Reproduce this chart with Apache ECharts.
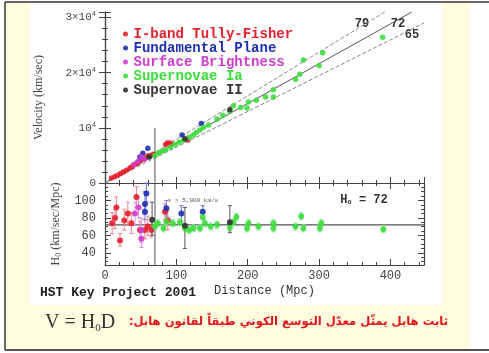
<!DOCTYPE html>
<html>
<head>
<meta charset="utf-8">
<script src="https://cdn.jsdelivr.net/npm/echarts@6/dist/echarts.min.js"></script>
<style>
  html, body { margin: 0; padding: 0; background: #fff; }
  #plot { width: 489px; height: 353px; }
</style>
</head>
<body>
<div id="plot"></div>
<script>
// 上图: 距离 (Mpc) 与 速度 (km/s)
var tfTop = [[9,900],[14,1200],[18,1400],[22,1700],[26,2000],[30,2300],[35,2700],[38,3000],[42,3400],[45,3600],[48,3900],[52,4300],[56,4500],[60,4900],[64,5000],[68,5200],[85,7000],[88,7300],[92,7200],[116,7800]];
var fpTop = [[49,4700],[53,5400],[60,6300],[108,8700],[135,10800]];
var sbfTop = [[40,3300],[46,3900],[51,4700],[55,4300]];
var snIaTop = [[70,5000],[75,5400],[80,5800],[85,6000],[92,6500],[98,7000],[104,7400],[110,7700],[118,8300],[124,8700],[128,9200],[133,9600],[138,10100],[145,10500],[157,11600],[165,12300],[175,13000],[180,14000],[190,13700],[199,13600],[201,14700],[212,15000],[225,15600],[236,15600],[236,16900],[267,18800],[273,19700],[278,22300],[300,21300],[305,23600],[389,26400]];
var snIITop = [[62,4700],[112,8000],[175,13300]];

// 下图: 距离 与 H0, 误差 [d, H, lo, hi]
var tfBot = [[16,92,80,104],[21,54,48,62],[14,80,68,90],[32,85,72,98],[37,74,62,86],[44,104,92,116],[49,66,56,76],[56,66,56,78],[65,66,58,76],[84,87,78,96],[88,77,66,88],[10,74,62,86],[27,77,66,90],[60,70,60,82]];
var fpBot = [[56,96,84,110],[58,108,98,120],[56,87,78,96],[86,91,82,100],[107,85,76,94],[137,87,80,94]];
var sbfBot = [[42,85,72,98],[51,66,52,80],[51,56,46,66],[47,92,80,104]];
var snIaBot = [[70,70,66,74],[74,74,70,78],[82,68,64,72],[86,76,72,80],[95,74,70,78],[105,75,71,79],[112,68,64,72],[118,66,62,70],[124,68,64,72],[133,68,64,72],[137,81,77,85],[140,74,70,78],[148,70,66,74],[157,72,68,76],[175,69,65,73],[180,75,71,79],[184,81,77,85],[199,68,64,72],[201,74,70,78],[215,70,66,74],[236,74,70,78],[236,68,64,72],[267,70,66,74],[275,82,78,86],[278,68,64,72],[301,68,64,72],[303,74,70,78],[390,67,63,71]];
var snIIBot = [[112,71,45,92],[175,75,63,94],[66,78,60,98]];

// 三条 H0 参考线端点
var line79 = [[0,0],[392,31000]];
var line72 = [[0,0],[430,31000]];
var line65 = [[0,0],[447,29000]];
var hLine = [[0,72],[447,72]];
var cutTop = [[70,0],[70,10000]];
var cutBot = [[70,26],[70,120]];

var names = ['I-band Tully-Fisher', 'Fundamental Plane', 'Surface Brightness', 'Supernovae Ia', 'Supernovae II'];
var colors = ['#e6202c', '#1f2fb5', '#cf3ccf', '#3ddc3d', '#333333'];
var barColors = ['#ec8090', '#7373d8', '#e090e0', '#8ee88e', '#555555'];

var myChart = echarts.init(document.getElementById('plot'));

var mono = 'Liberation Mono';
var serif = 'Liberation Serif';

function errBars(name, data, color) {
  return {
    name: name + ' err', type: 'custom', xAxisIndex: 3, yAxisIndex: 2, z: 3,
    data: data,
    encode: { x: 0, y: 1 },
    renderItem: function (params, api) {
      var lo = api.coord([api.value(0), api.value(2)]);
      var hi = api.coord([api.value(0), api.value(3)]);
      var st = { stroke: color, lineWidth: 1 };
      return {
        type: 'group',
        children: [
          { type: 'line', shape: { x1: lo[0], y1: lo[1], x2: hi[0], y2: hi[1] }, style: st },
          { type: 'line', shape: { x1: lo[0] - 2, y1: lo[1], x2: lo[0] + 2, y2: lo[1] }, style: st },
          { type: 'line', shape: { x1: hi[0] - 2, y1: hi[1], x2: hi[0] + 2, y2: hi[1] }, style: st }
        ]
      };
    }
  };
}

function scatter(name, data, i, grid) {
  return {
    name: name, type: 'scatter',
    xAxisIndex: grid ? 3 : 0, yAxisIndex: grid ? 2 : 0,
    data: data.map(function (d) { return [d[0], d[1]]; }),
    symbolSize: grid ? 6 : 5.5, z: 5,
    itemStyle: { color: colors[i], opacity: 0.9 }
  };
}

function refLine(data, xi, yi, color, type, w) {
  return {
    type: 'line', xAxisIndex: xi, yAxisIndex: yi, data: data, symbol: 'none', z: 2,
    silent: true, lineStyle: { color: color, width: w || 1, type: type }
  };
}

var axisLine = { lineStyle: { color: '#444', width: 1.2 } };
var tickStyle = { lineStyle: { color: '#444' } };

function xAx(grid, pos, labels) {
  return {
    type: 'value', gridIndex: grid, position: pos, min: 0, max: 447, interval: 100,
    axisLine: axisLine,
    axisTick: { show: true, inside: true, length: 6, lineStyle: tickStyle.lineStyle },
    minorTick: { show: true, splitNumber: 5, length: 3, lineStyle: tickStyle.lineStyle },
    splitLine: { show: false },
    axisLabel: labels ? { show: true, margin: 5, fontFamily: mono, fontSize: 12, color: '#444',
      formatter: function (v) { return v > 400 ? '' : v; } } : { show: false },
    name: labels ? 'Distance (Mpc)' : '',
    nameLocation: 'middle', nameGap: 20,
    nameTextStyle: { fontFamily: mono, fontSize: 12, color: '#333' }
  };
}

var option = {
  animation: false,
  backgroundColor: 'transparent',
  textStyle: { fontFamily: mono },
  grid: [
    { left: 105, top: 12, width: 319, height: 171 },
    { left: 105, top: 183, width: 319, height: 82 }
  ],
  legend: {
    orient: 'vertical', left: 118, top: 22, itemWidth: 6, itemHeight: 5, itemGap: 0,
    icon: 'circle',
    textStyle: { fontFamily: mono, fontWeight: 'bold', fontSize: 14, lineHeight: 11 },
    data: names.map(function (n, i) { return { name: n, textStyle: { color: colors[i] } }; })
  },
  xAxis: [xAx(0, 'bottom', false), xAx(0, 'top', false), xAx(1, 'top', false), xAx(1, 'bottom', true)],
  yAxis: [
    {
      type: 'value', gridIndex: 0, position: 'left', min: 0, max: 31000, interval: 10000,
      axisLine: axisLine,
      axisTick: { show: true, inside: true, length: 6, lineStyle: tickStyle.lineStyle },
      minorTick: { show: true, splitNumber: 5, length: 3, lineStyle: tickStyle.lineStyle },
      splitLine: { show: false },
      axisLabel: {
        margin: 9, fontFamily: mono, fontSize: 11, color: '#444',
        formatter: function (v) {
          if (v === 0) return '0';
          if (v === 10000) return '10{s|4}';
          return (v / 10000) + '×10{s|4}';
        },
        rich: { s: { fontSize: 7, fontFamily: mono, color: '#444', padding: [0, 0, 6, 0] } }
      },
      name: 'Velocity (km/sec)', nameLocation: 'middle', nameGap: 60,
      nameTextStyle: { fontFamily: serif, fontSize: 12, color: '#444' }
    },
    {
      type: 'value', gridIndex: 0, position: 'right', min: 0, max: 31000, interval: 10000,
      axisLine: axisLine,
      axisTick: { show: true, inside: true, length: 6, lineStyle: tickStyle.lineStyle },
      minorTick: { show: true, splitNumber: 5, length: 3, lineStyle: tickStyle.lineStyle },
      splitLine: { show: false }, axisLabel: { show: false }
    },
    {
      type: 'value', gridIndex: 1, position: 'left', min: 26, max: 120,
      axisLine: axisLine,
      axisTick: { show: true, inside: true, length: 6, customValues: [40, 60, 80, 100], lineStyle: tickStyle.lineStyle },
      splitLine: { show: false },
      axisLabel: { customValues: [40, 60, 80, 100], margin: 9, fontFamily: mono, fontSize: 12, color: '#444' },
      name: 'H{sub|0} (km/sec/Mpc)', nameLocation: 'middle', nameGap: 42,
      nameTextStyle: { fontFamily: serif, fontSize: 12, color: '#444',
        rich: { sub: { fontFamily: serif, fontSize: 8, color: '#444', padding: [6, 0, 0, 0] } } }
    },
    {
      type: 'value', gridIndex: 1, position: 'left', min: 26, max: 120,
      axisLine: { show: false },
      axisTick: { show: true, inside: true, length: 3, customValues: [30, 35, 45, 50, 55, 65, 70, 75, 85, 90, 95, 105, 110, 115], lineStyle: tickStyle.lineStyle },
      splitLine: { show: false }, axisLabel: { show: false }
    },
    {
      type: 'value', gridIndex: 1, position: 'right', min: 26, max: 120,
      axisLine: axisLine,
      axisTick: { show: true, inside: true, length: 6, customValues: [40, 60, 80, 100], lineStyle: tickStyle.lineStyle },
      splitLine: { show: false }, axisLabel: { show: false }
    },
    {
      type: 'value', gridIndex: 1, position: 'right', min: 26, max: 120,
      axisLine: { show: false },
      axisTick: { show: true, inside: true, length: 3, customValues: [30, 35, 45, 50, 55, 65, 70, 75, 85, 90, 95, 105, 110, 115], lineStyle: tickStyle.lineStyle },
      splitLine: { show: false }, axisLabel: { show: false }
    }
  ],
  graphic: [
    { type: 'rect', z: -10, shape: { x: 5, y: 2, width: 465, height: 348 }, style: { fill: '#fffde0' } },
    { type: 'rect', z: -9, shape: { x: 30, y: 3, width: 412, height: 302 }, style: { fill: '#ffffff' } },
    { type: 'line', z: -8, shape: { x1: 5, y1: 2, x2: 489, y2: 2 }, style: { stroke: '#333', lineWidth: 1.5 } },
    { type: 'line', z: -8, shape: { x1: 5, y1: 2, x2: 5, y2: 350 }, style: { stroke: '#333', lineWidth: 1.5 } },
    { type: 'line', z: -8, shape: { x1: 5, y1: 350, x2: 489, y2: 350 }, style: { stroke: '#555', lineWidth: 2 } },
    { type: 'text', x: 362, y: 24, style: { text: '79', fontFamily: mono, fontWeight: 'bold', fontSize: 12, fill: '#333', align: 'center', verticalAlign: 'middle' } },
    { type: 'text', x: 398, y: 24, style: { text: '72', fontFamily: mono, fontWeight: 'bold', fontSize: 12, fill: '#333', align: 'center', verticalAlign: 'middle' } },
    { type: 'text', x: 412, y: 35, style: { text: '65', fontFamily: mono, fontWeight: 'bold', fontSize: 12, fill: '#333', align: 'center', verticalAlign: 'middle' } },
    { type: 'text', x: 364, y: 200, style: { text: 'H{s|o} = 72', rich: { s: { fontSize: 7, fontFamily: mono, fontWeight: 'bold', fill: '#333', padding: [5, 0, 0, 0] } }, fontFamily: mono, fontWeight: 'bold', fontSize: 12, fill: '#333', align: 'center', verticalAlign: 'middle' } },
    { type: 'text', x: 193, y: 200, style: { text: 'v > 5,000 km/s', fontFamily: mono, fontSize: 6, fill: '#555', align: 'center', verticalAlign: 'middle' } },
    { type: 'text', x: 40, y: 293, style: { text: 'HST Key Project 2001', fontFamily: mono, fontWeight: 'bold', fontSize: 13, fill: '#222', verticalAlign: 'middle' } },
    { type: 'text', x: 45, y: 323, style: { text: 'V = H{s|0}D', rich: { s: { fontSize: 11, fontFamily: serif, fill: '#333', padding: [10, 0, 0, 0] } }, fontFamily: serif, fontSize: 20, fill: '#333', verticalAlign: 'middle' } },
    { type: 'text', x: 448, y: 322, style: { text: 'ثابت هابل يمثّل معدّل التوسع الكوني طبقاً لقانون هابل:\u200F', fontFamily: 'DejaVu Sans', fontWeight: 'bold', fontSize: 11.6, fill: '#e8141c', align: 'right', verticalAlign: 'middle' } }
  ],
  series: [
    refLine(line79, 0, 0, '#888', 'dashed'),
    refLine(line72, 0, 0, '#555', 'solid'),
    refLine(line65, 0, 0, '#888', 'dashed'),
    refLine(cutTop, 0, 0, '#555', 'solid'),
    refLine(cutBot, 3, 2, '#555', 'solid'),
    refLine(hLine, 3, 2, '#555', 'solid', 1.2),
    errBars(names[0], tfBot, barColors[0]),
    errBars(names[1], fpBot, barColors[1]),
    errBars(names[2], sbfBot, barColors[2]),
    errBars(names[3], snIaBot, barColors[3]),
    errBars(names[4], snIIBot, barColors[4]),
    scatter(names[0], tfTop, 0, 0),
    scatter(names[1], fpTop, 1, 0),
    scatter(names[2], sbfTop, 2, 0),
    scatter(names[3], snIaTop, 3, 0),
    scatter(names[4], snIITop, 4, 0),
    scatter(names[0], tfBot, 0, 1),
    scatter(names[1], fpBot, 1, 1),
    scatter(names[2], sbfBot, 2, 1),
    scatter(names[3], snIaBot, 3, 1),
    scatter(names[4], snIIBot, 4, 1)
  ]
};

myChart.setOption(option);
</script>
</body>
</html>
